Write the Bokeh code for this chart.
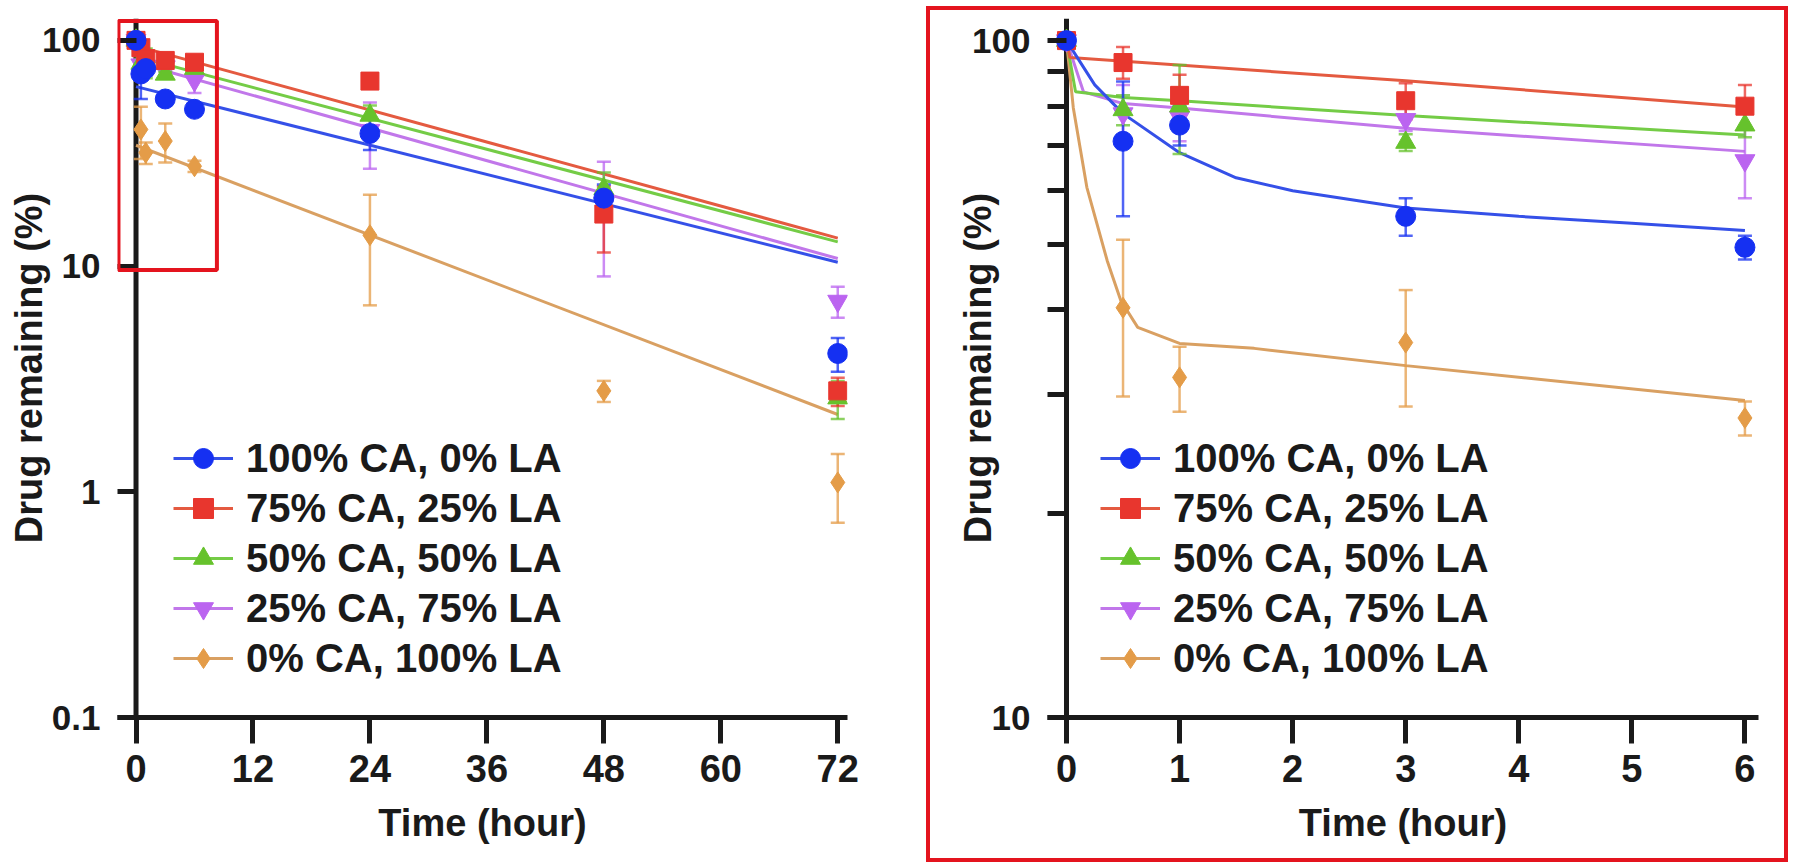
from bokeh.plotting import figure
from bokeh.models import (Range1d, FixedTicker, Legend, LegendItem, Span,
                          BoxAnnotation, ColumnDataSource, NumeralTickFormatter)
from bokeh.layouts import row
from bokeh.embed import file_html
from bokeh.resources import INLINE

# ---------------- data ----------------
times = [0, 0.5, 1, 3, 6, 24, 48, 72]
series_labels = ["100% CA, 0% LA", "75% CA, 25% LA", "50% CA, 50% LA",
                 "25% CA, 75% LA", "0% CA, 100% LA"]

ca100_mean = [100, 71, 75, 55, 49.5, 38.7, 20, 4.1]
ca100_sd = [0, 16, 5, 3.5, 2, 6, 3, 0.7]
ca75_mean = [100, 92.8, 83, 81.5, 80, 66, 17, 2.8]
ca75_sd = [0, 5, 6, 5, 6, 5, 5.5, 0.4]
ca50_mean = [100, 79, 80, 70.7, 75, 46.5, 22, 2.6]
ca50_sd = [0, 4, 12, 2, 3, 5, 4, 0.5]
ca25_mean = [100, 78, 77, 76.5, 66.5, 40, 19, 7.0]
ca25_sd = [0, 8, 6, 3, 8, 13, 10, 1.1]
ca0_mean = [100, 40.3, 31.8, 35.8, 27.7, 13.7, 2.8, 1.1]
ca0_sd = [0, 10.5, 3.5, 7, 1.6, 7, 0.3, 0.37]

# fitted lines, 0-72 h panel
fit72_t = [0, 72]
fit72_ca100 = [62.4, 10.4]
fit72_ca75 = [94.5, 13.3]
fit72_ca50 = [84.7, 12.8]
fit72_ca25 = [79.6, 10.8]
fit72_ca0 = [34.3, 2.2]

# fitted curves, 0-6 h panel
fit6_ca100_t = [0, 0.25, 0.5, 1, 1.5, 2, 3, 4, 5, 6]
fit6_ca100 = [100, 86, 78, 68.3, 62.7, 60, 56.6, 55, 53.7, 52.4]
fit6_ca75_t = [0, 0.03, 3, 6]
fit6_ca75 = [100, 94.4, 87.2, 79.8]
fit6_ca50_t = [0, 0.08, 0.5, 1, 3, 6]
fit6_ca50 = [100, 84, 82.4, 81.5, 77.5, 72.5]
fit6_ca25_t = [0, 0.15, 0.5, 1, 3, 6]
fit6_ca25 = [100, 84, 80.7, 79.5, 74.2, 68.6]
fit6_ca0_t = [0, 0.06, 0.18, 0.36, 0.48, 0.63, 1, 1.66, 3, 6]
fit6_ca0 = [100, 79.6, 60.7, 47.3, 41.3, 37.7, 35.7, 35.1, 33.1, 29.4]

left_xticks = [0, 12, 24, 36, 48, 60, 72]
left_yticks = [0.1, 1, 10, 100]
right_xticks = [0, 1, 2, 3, 4, 5, 6]
right_yticks = [10, 100]
right_yminor = [20, 30, 40, 50, 60, 70, 80, 90]

# ---------------- styles ----------------
FONT = "Liberation Sans"
TXT = "#1a1a1a"
RED_FRAME = "#e4141e"
styles = {
    "ca100": dict(color="#1530f2", line="#3550e8", marker="circle", size=20),
    "ca75": dict(color="#e8362e", line="#e45a40", marker="square", size=18),
    "ca50": dict(color="#66c22c", line="#74cc46", marker="triangle", size=20),
    "ca25": dict(color="#bb64f0", line="#c177ea", marker="inverted_triangle", size=20),
    "ca0": dict(color="#e49c48", line="#d9a062", marker="diamond", size=21),
}
keys = ["ca100", "ca75", "ca50", "ca25", "ca0"]
means = dict(ca100=ca100_mean, ca75=ca75_mean, ca50=ca50_mean, ca25=ca25_mean, ca0=ca0_mean)
sds = dict(ca100=ca100_sd, ca75=ca75_sd, ca50=ca50_sd, ca25=ca25_sd, ca0=ca0_sd)
fits72 = dict(ca100=fit72_ca100, ca75=fit72_ca75, ca50=fit72_ca50, ca25=fit72_ca25, ca0=fit72_ca0)
fits6 = dict(ca100=(fit6_ca100_t, fit6_ca100), ca75=(fit6_ca75_t, fit6_ca75),
             ca50=(fit6_ca50_t, fit6_ca50), ca25=(fit6_ca25_t, fit6_ca25),
             ca0=(fit6_ca0_t, fit6_ca0))


def style_axes(p, xticks, yticks, yminor, ytick_in, ytitle_standoff):
    for ax in (p.xaxis[0], p.yaxis[0]):
        ax.axis_line_width = 5
        ax.axis_line_color = TXT
        ax.major_tick_line_width = 5
        ax.major_tick_line_color = TXT
        ax.major_label_text_font = FONT
        ax.major_label_text_font_style = "bold"
        ax.major_label_text_color = TXT
        ax.axis_label_text_font = FONT
        ax.axis_label_text_font_size = "38px"
        ax.axis_label_text_font_style = "bold"
        ax.axis_label_text_color = TXT
    xa = p.xaxis[0]
    xa.ticker = FixedTicker(ticks=xticks)
    xa.major_tick_in = 0
    xa.major_tick_out = 26
    xa.minor_tick_line_color = None
    xa.major_label_text_font_size = "38px"
    xa.major_label_standoff = 11
    xa.axis_label = "Time (hour)"
    xa.axis_label_standoff = 17
    ya = p.yaxis[0]
    ya.ticker = FixedTicker(ticks=yticks, minor_ticks=yminor)
    ya.formatter = NumeralTickFormatter(format="0.[0]")
    ya.major_label_overrides = {v: str(v) for v in yticks}
    # the axis sits at the frame's left edge; its ticks reach in to t = 0,
    # where the axis line itself is drawn (see Span below)
    ya.axis_line_color = None
    ya.major_tick_out = 0
    ya.major_tick_in = ytick_in
    ya.major_label_text_font_size = "35px"
    ya.major_label_standoff = 17
    ya.axis_label = "Drug remaining (%)"
    ya.axis_label_standoff = ytitle_standoff
    if yminor:
        ya.minor_tick_out = 0
        ya.minor_tick_in = ytick_in
        ya.minor_tick_line_width = 5
        ya.minor_tick_line_color = TXT
    else:
        ya.minor_tick_line_color = None
    p.add_layout(Span(location=0, dimension="height", line_color=TXT,
                      line_width=5, level="underlay"))
    p.xgrid.grid_line_color = None
    p.ygrid.grid_line_color = None
    p.outline_line_color = None
    p.background_fill_color = "white"


def draw_series(p, t_sel, line_data):
    line_r = {}
    for k in keys[::-1]:
        st = styles[k]
        lx, ly = line_data[k]
        line_r[k] = p.line(lx, ly, line_color=st["line"], line_width=3)
    for k in keys[::-1]:
        st = styles[k]
        idx = [i for i, t in enumerate(times) if t in t_sel and sds[k][i] > 0]
        src = ColumnDataSource(dict(
            t=[times[i] for i in idx],
            lo=[means[k][i] - sds[k][i] for i in idx],
            hi=[means[k][i] + sds[k][i] for i in idx]))
        p.segment(x0="t", y0="lo", x1="t", y1="hi", source=src,
                  line_color=st["color"], line_width=2.5, line_alpha=0.75)
        p.scatter(x="t", y="lo", source=src, marker="dash", size=14,
                  line_color=st["color"], line_width=2.5, line_alpha=0.75)
        p.scatter(x="t", y="hi", source=src, marker="dash", size=14,
                  line_color=st["color"], line_width=2.5, line_alpha=0.75)
    sc_r = {}
    for k in keys[::-1]:
        st = styles[k]
        idx = [i for i, t in enumerate(times) if t in t_sel]
        sc_r[k] = p.scatter([times[i] for i in idx], [means[k][i] for i in idx],
                            marker=st["marker"], size=st["size"],
                            fill_color=st["color"], line_color=st["color"], line_width=1)
    return [LegendItem(label=lab, renderers=[line_r[k], sc_r[k]])
            for lab, k in zip(series_labels, keys)]


def add_legend(p, items, loc):
    p.add_layout(Legend(items=items, location=loc, orientation="vertical",
                        glyph_width=60, glyph_height=50, label_height=50, spacing=0,
                        label_standoff=13, padding=0, margin=0,
                        border_line_color=None, background_fill_alpha=0,
                        label_text_font=FONT, label_text_font_size="40px",
                        label_text_font_style="bold", label_text_color=TXT))


# both figures share the same top/bottom borders (the row aligns them)
# ---------------- left panel (0-72 h) ----------------
p1 = figure(width=926, height=856, x_range=Range1d(-1.9, 73.0),
            y_range=Range1d(0.1, 125), y_axis_type="log",
            output_backend="svg", toolbar_location=None,
            min_border_left=117, min_border_right=79,
            min_border_top=12, min_border_bottom=145)
style_axes(p1, left_xticks, left_yticks, [], 19, -11)
items1 = draw_series(p1, set(times), {k: (fit72_t, fits72[k]) for k in keys})
add_legend(p1, items1, (56, 34))
p1.add_layout(BoxAnnotation(left=-1.8, right=8.3, bottom=9.6, top=122,
                            fill_alpha=0, line_color=RED_FRAME, line_alpha=1,
                            line_width=4))
p1.margin = (6, 0, 0, 0)

# ---------------- right panel (0-6 h) ----------------
p2 = figure(width=862, height=856, x_range=Range1d(-0.168, 6.12),
            y_range=Range1d(10, 107.8), y_axis_type="log",
            output_backend="svg", toolbar_location=None,
            min_border_left=121, min_border_right=30,
            min_border_top=12, min_border_bottom=145)
style_axes(p2, right_xticks, right_yticks, right_yminor, 19, -30)
items2 = draw_series(p2, {0, 0.5, 1, 3, 6}, fits6)
add_legend(p2, items2, (53, 34))
p2.border_fill_color = None
p2.margin = (6, 0, 0, 0)
p2.styles = {"outline": "4px solid " + RED_FRAME, "outline-offset": "-4px"}

layout = row(p1, p2)
open("out.html", "w").write(file_html(layout, INLINE))
